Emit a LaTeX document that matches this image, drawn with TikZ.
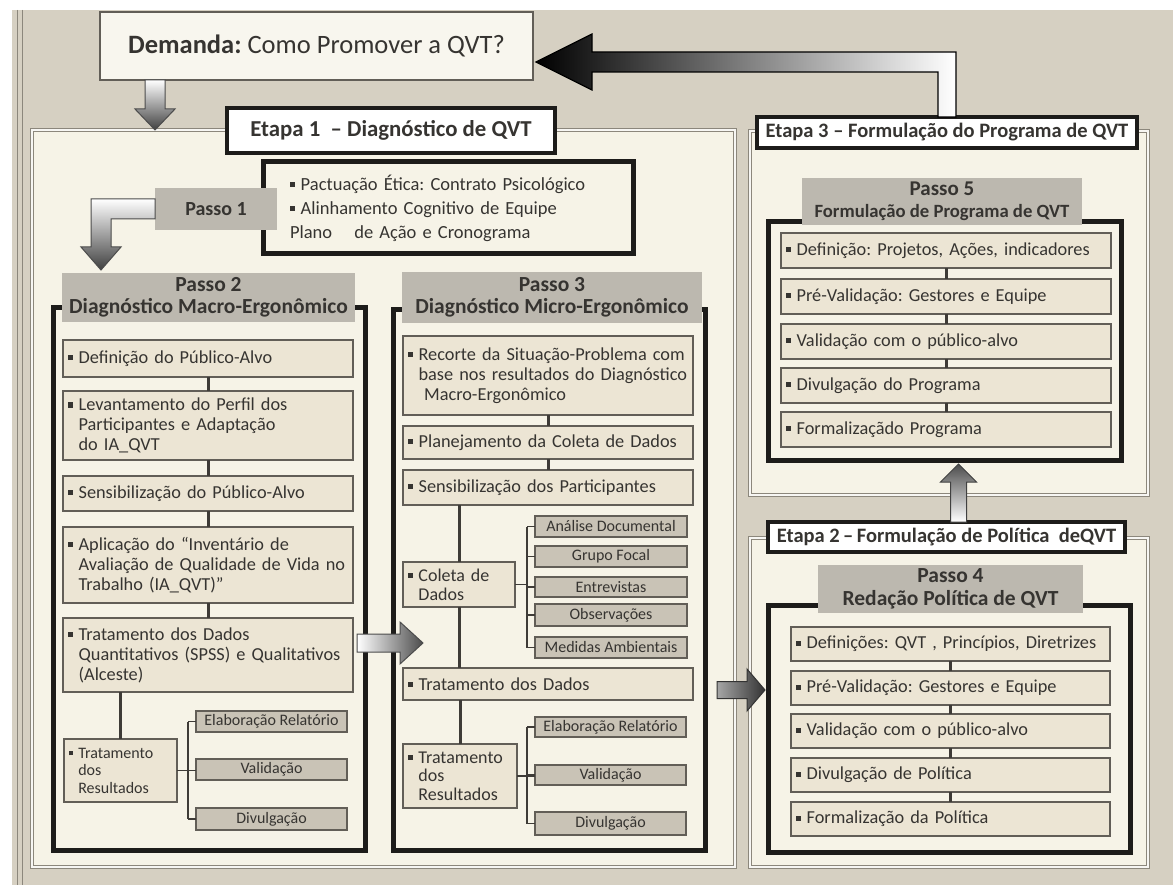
\documentclass[tikz,border=0pt]{standalone}
\usepackage{fontspec}
\setmainfont{Carlito}
\usetikzlibrary{calc}
\definecolor{bg}{HTML}{D6D0C2}
\definecolor{panelfill}{HTML}{F6F3E7}
\definecolor{panelline}{HTML}{8C877C}
\definecolor{itemfill}{HTML}{ECE5D4}
\definecolor{itemline}{HTML}{625E57}
\definecolor{linkline}{HTML}{3E3B37}
\definecolor{subfill}{HTML}{C9C3B6}
\definecolor{titlefill}{HTML}{BCB8AF}
\definecolor{txt}{HTML}{363431}
\definecolor{boxline}{HTML}{1D1C1A}
\definecolor{demfill}{HTML}{F8F6EE}
\newcommand\bul{\raisebox{0.17em}{\rule{0.28em}{0.28em}}\hspace{0.3em}}
\newcommand\ind{\hspace*{0.58em}}
\frenchspacing
\begin{document}
\frenchspacing
\begin{tikzpicture}[x=1pt,y=-1pt,
  every node/.style={outer sep=0pt},
  panelbox/.style={draw=panelline, double=white!80!bg, double distance=1.4pt, line width=1pt, fill=panelfill, anchor=north west, inner sep=0pt},
  stepframe/.style={draw=boxline, line width=5pt, anchor=north west, inner sep=0pt},
  labelbox/.style={draw=boxline, fill=white, line width=3.5pt, anchor=north west, inner sep=0pt, text=txt, font=\bfseries\fontsize{20.5}{23}\selectfont},
  titlebox/.style={fill=titlefill, anchor=north west, inner sep=0pt, align=center, text=txt, font=\bfseries\fontsize{21.5}{22.5}\selectfont},
  itembox/.style={draw=itemline, fill=itemfill, line width=1.4pt, anchor=north west, inner xsep=5pt, inner ysep=0pt, align=left, text=txt, font=\fontsize{18.3}{20}\selectfont},
  itw/.style={itembox, minimum width=290pt, text width=280pt},
  itv/.style={itembox, minimum width=330pt, text width=320pt},
  itq/.style={itembox, minimum width=319pt, text width=309pt},
  subbox/.style={draw=itemline, fill=subfill, line width=1.4pt, anchor=north west, inner sep=0pt, align=center, text=txt, font=\fontsize{16}{17}\selectfont},
  link/.style={draw=linkline, line width=3pt},
  brk/.style={draw=linkline, line width=1.3pt},
  arrowdown/.style={draw=black!70, line width=1pt, top color=white, bottom color=black!75},
  arrowup/.style={draw=black!75, line width=1pt, top color=black!70, bottom color=white},
  arrowright/.style={draw=black!70, line width=1pt, left color=white, right color=black!70},
  arrowdark/.style={draw=black!80, line width=1pt, left color=black!35, right color=black!80},
  bigarrow/.style={draw=black, line width=1.2pt, left color=black, middle color=black!55, right color=white}
]
\useasboundingbox (0,0) rectangle (1173,885);
\fill[white] (0,0) rectangle (1173,885);
\fill[bg] (12,10) rectangle (1173,885);
\draw[panelline, line width=1pt] (17,10) -- (17,885) (22,10) -- (22,885);

% panels
\node[panelbox, minimum width=703pt, minimum height=737pt] (e1p) at (32,130) {};
\node[panelbox, minimum width=398pt, minimum height=364pt] (e3p) at (750,131) {};
\node[panelbox, minimum width=398pt, minimum height=329pt] (e2p) at (750,538) {};

% demand
\node[draw=itemline, fill=demfill, line width=1.2pt, anchor=north west, minimum width=433pt, minimum height=68pt, inner sep=0pt, text=txt, font=\fontsize{26.5}{30}\selectfont] (dem) at (100,12) {\textbf{Demanda:} Como Promover a QVT?};

% etapa labels
\node[labelbox, minimum width=328pt, minimum height=45pt, font=\bfseries\fontsize{22.8}{24}\selectfont] (e1) at (227,108) {Etapa 1\ \ – Diagnóstico de QVT};
\node[labelbox, minimum width=380pt, minimum height=31pt] (e3) at (757,117) {Etapa 3 – Formulação do Programa de QVT};
\node[labelbox, minimum width=357pt, minimum height=30pt] (e2) at (768,522) {Etapa 2\,–\,Formulação de Política\ \ deQVT};

% big arrow back to demand
\path[bigarrow] let \p1=(e3.north), \p2=($(dem.east)+(3,16)$) in
  (\x1-9pt,\y1) -- (\x1-9pt,\y2-10pt) -- (\x2+56pt,\y2-10pt) -- (\x2+56pt,\y2-28pt) -- (\x2,\y2)
  -- (\x2+56pt,\y2+28pt) -- (\x2+56pt,\y2+10pt) -- (\x1+9pt,\y2+10pt) -- (\x1+9pt,\y1) -- cycle;

% demand down arrow
\path[arrowdown] let \p1=($(dem.south west)+(55,0)$), \p2=(e1p.north) in
  (\x1-10pt,\y1) -- (\x1-10pt,\y2+21pt) -- (\x1-20pt,\y2+21pt) -- (\x1,\y2) -- (\x1+20pt,\y2+21pt) -- (\x1+10pt,\y2+21pt) -- (\x1+10pt,\y1) -- cycle;

% Passo 1
\node[stepframe, minimum width=370pt, minimum height=92pt, inner xsep=27pt, text width=316pt, align=left, text=txt, font=\fontsize{18.5}{24}\selectfont] (f1) at (263,162)
  {\bul Pactuação Ética: Contrato Psicológico\\\bul Alinhamento Cognitivo de Equipe\\Plano\hspace{1.2em}de Ação e Cronograma};
\node[titlebox, minimum width=122pt, minimum height=42pt, font=\bfseries\fontsize{20}{22}\selectfont] (p1l) at (155,188) {Passo 1};

% frames
\node[stepframe, minimum width=312pt, minimum height=542pt] (f2) at (53,308) {};
\node[stepframe, minimum width=312pt, minimum height=540pt] (f3) at (393,310) {};
\node[stepframe, minimum width=353pt, minimum height=238pt] (f5) at (768,222) {};
\node[stepframe, minimum width=362pt, minimum height=247pt] (f4) at (768,605) {};

% titles
\node[titlebox, minimum width=293pt, minimum height=49pt] (t2) at (62,273) {Passo 2\\Diagnóstico Macro-Ergonômico};
\node[titlebox, minimum width=300pt, minimum height=51pt] (t3) at (402,272) {Passo 3\\Diagnóstico Micro-Ergonômico};
\node[titlebox, minimum width=280pt, minimum height=47pt, font=\bfseries\fontsize{18.7}{22}\selectfont] (t5) at (802,178) {{\fontsize{21}{22}\selectfont Passo 5}\\Formulação de Programa de QVT};
\node[titlebox, minimum width=265pt, minimum height=48pt] (t4) at (818,565) {Passo 4\\Redação Política de QVT};

% L arrow from Passo 1 to Passo 2
\path[arrowdown] let \p1=(p1l.west), \p2=($(t2.north west)+(39,-3)$) in
  (\x1,\y1+10pt) -- (\x2-10pt,\y1+10pt) -- (\x2-10pt,\y2+23pt) -- (\x2-20pt,\y2+23pt) -- (\x2,\y2)
  -- (\x2+20pt,\y2+23pt) -- (\x2+10pt,\y2+23pt) -- (\x2+10pt,\y1-10pt) -- (\x1,\y1-10pt) -- cycle;

% Passo 2 items
\node[itw, minimum height=37pt] (p2a) at (63,340) {\bul Definição do Público-Alvo};
\node[itw, minimum height=69pt] (p2b) at (63,391) {\bul Levantamento do Perfil dos\\\ind Participantes e Adaptação\\\ind do IA\_QVT};
\node[itw, minimum height=35pt] (p2c) at (63,476) {\bul Sensibilização do Público-Alvo};
\node[itw, minimum height=76pt] (p2d) at (63,527) {\bul Aplicação do “Inventário de\\\ind Avaliação de Qualidade de Vida no\\\ind Trabalho (IA\_QVT)”};
\node[itw, minimum height=74pt] (p2e) at (63,618) {\bul Tratamento dos Dados\\\ind Quantitativos (SPSS) e Qualitativos\\\ind (Alceste)};
\node[itembox, minimum width=113pt, text width=103pt, minimum height=63pt, font=\fontsize{16}{17.5}\selectfont] (p2f) at (64,739) {\bul Tratamento\\\ind dos\\\ind Resultados};
\node[subbox, minimum width=151pt, minimum height=21pt] (p2g) at (196,711) {Elaboração Relatório};
\node[subbox, minimum width=151pt, minimum height=21pt] (p2h) at (196,759) {Validação};
\node[subbox, minimum width=151pt, minimum height=22pt] (p2i) at (196,808) {Divulgação};

\draw[link] (p2a.south) -- (p2b.north);
\draw[link] (p2b.south) -- (p2c.north);
\draw[link] (p2c.south) -- (p2d.north);
\draw[link] (p2d.south) -- (p2e.north);
\draw[link] (p2f.north |- p2e.south) -- (p2f.north);
\draw[brk] ($(p2g.west)+(-8,0)$) -- (p2g.west);
\draw[brk] ($(p2i.west)+(-8,0)$) -- (p2i.west);
\draw[brk] ($(p2g.west)+(-8,0)$) -- ($(p2i.west)+(-8,0)$);
\draw[brk] (p2f.east) -- (p2f.east -| p2h.west);

% Passo 3 items
\node[itw, minimum height=79pt] (p3a) at (403,336) {\bul Recorte da Situação-Problema com\\\ind base nos resultados do Diagnóstico\\\ind\hspace*{0.3em}Macro-Ergonômico};
\node[itw, minimum height=33pt] (p3b) at (403,426) {\bul Planejamento da Coleta de Dados};
\node[itw, minimum height=35pt] (p3c) at (403,470) {\bul Sensibilização dos Participantes};
\node[itembox, minimum width=112pt, text width=102pt, minimum height=45pt, font=\fontsize{18}{19}\selectfont] (p3d) at (403,562) {\bul Coleta de\\\ind Dados};
\node[subbox, minimum width=152pt, minimum height=21pt] (p3s1) at (535,516) {Análise Documental};
\node[subbox, minimum width=152pt, minimum height=21pt] (p3s2) at (535,546) {Grupo Focal};
\node[subbox, minimum width=152pt, minimum height=20pt] (p3s3) at (535,577) {Entrevistas};
\node[subbox, minimum width=152pt, minimum height=22pt] (p3s4) at (535,604) {Observações};
\node[subbox, minimum width=152pt, minimum height=21pt] (p3s5) at (535,637) {Medidas Ambientais};
\node[itw, minimum height=32pt] (p3e) at (403,668) {\bul Tratamento dos Dados};
\node[itembox, minimum width=114pt, text width=104pt, minimum height=64pt, font=\fontsize{18}{18.5}\selectfont] (p3f) at (403,744) {\bul Tratamento\\\ind dos\\\ind Resultados};
\node[subbox, minimum width=151pt, minimum height=20pt] (p3g) at (535,717) {Elaboração Relatório};
\node[subbox, minimum width=151pt, minimum height=20pt] (p3h) at (535,765) {Validação};
\node[subbox, minimum width=151pt, minimum height=23pt] (p3i) at (535,812) {Divulgação};

\draw[link] (p3a.south) -- (p3b.north);
\draw[link] (p3b.south) -- (p3c.north);
\draw[link] (p3d.north |- p3c.south) -- (p3d.north);
\draw[link] (p3d.south) -- (p3d.south |- p3e.north);
\draw[link] (p3f.north |- p3e.south) -- (p3f.north);
\foreach \s in {p3s1,p3s2,p3s3,p3s4,p3s5,p3g,p3h,p3i}{\draw[brk] ($(\s.west)+(-8,0)$) -- (\s.west);}
\draw[brk] ($(p3s1.west)+(-8,0)$) -- ($(p3s5.west)+(-8,0)$);
\draw[brk] (p3d.east) -- ($(p3d.east)+(12,0)$);
\draw[brk] ($(p3g.west)+(-8,0)$) -- ($(p3i.west)+(-8,0)$);
\draw[brk] (p3f.east) -- (p3f.east -| p3h.west);

% Passo 5 items
\node[itv, minimum height=35pt] (p5a) at (781,233) {\bul Definição: Projetos, Ações, indicadores};
\node[itv, minimum height=35pt] (p5b) at (781,279) {\bul Pré-Validação: Gestores e Equipe};
\node[itv, minimum height=35pt] (p5c) at (781,324) {\bul Validação com o público-alvo};
\node[itv, minimum height=35pt] (p5d) at (781,368) {\bul Divulgação do Programa};
\node[itv, minimum height=35pt] (p5e) at (781,412) {\bul Formalizaçãdo Programa};
\draw[link] (p5a.south) -- (p5b.north);
\draw[link] (p5b.south) -- (p5c.north);
\draw[link] (p5c.south) -- (p5d.north);
\draw[link] (p5d.south) -- (p5e.north);

% Passo 4 items
\node[itq, minimum height=34pt] (p4a) at (791,627) {\bul Definições: QVT , Princípios, Diretrizes};
\node[itq, minimum height=34pt] (p4b) at (791,671) {\bul Pré-Validação: Gestores e Equipe};
\node[itq, minimum height=34pt] (p4c) at (791,714) {\bul Validação com o público-alvo};
\node[itq, minimum height=34pt] (p4d) at (791,758) {\bul Divulgação de Política};
\node[itq, minimum height=34pt] (p4e) at (791,802) {\bul Formalização da Política};
\draw[link] (p4a.south) -- (p4b.north);
\draw[link] (p4b.south) -- (p4c.north);
\draw[link] (p4c.south) -- (p4d.north);
\draw[link] (p4d.south) -- (p4e.north);

% arrows between steps
\path[arrowright] let \p1=($(p2e.east)+(4,-12)$), \p2=(f3.west) in
  (\x1,\y1+9pt) -- (\x2+7pt,\y1+9pt) -- (\x2+7pt,\y1+21pt) -- (\x2+30pt,\y1) -- (\x2+7pt,\y1-21pt) -- (\x2+7pt,\y1-9pt) -- (\x1,\y1-9pt) -- cycle;
\path[arrowdark] let \p1=($(f3.east)+(12,110)$), \p2=(f4.west) in
  (\x1,\y1+8.5pt) -- (\x2-21pt,\y1+8.5pt) -- (\x2-21pt,\y1+21pt) -- (\x2-3pt,\y1) -- (\x2-21pt,\y1-21pt) -- (\x2-21pt,\y1-8.5pt) -- (\x1,\y1-8.5pt) -- cycle;
\path[arrowup] let \p1=($(e2.north)+(12,0)$), \p2=(f5.south) in
  (\x1-8pt,\y1) -- (\x1-8pt,\y2-22pt) -- (\x1-18pt,\y2-22pt) -- (\x1,\y2-4pt) -- (\x1+18pt,\y2-22pt) -- (\x1+8pt,\y2-22pt) -- (\x1+8pt,\y1) -- cycle;
\end{tikzpicture}
\end{document}
